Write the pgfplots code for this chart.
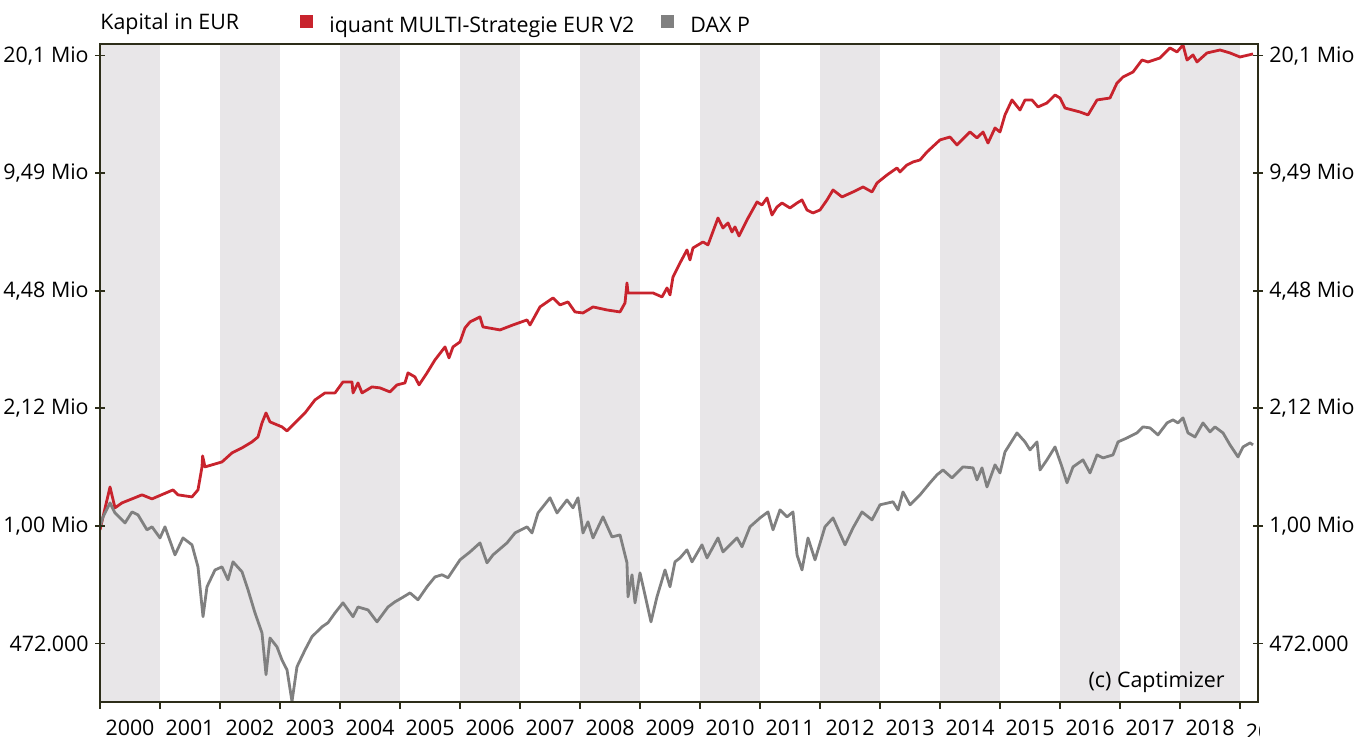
\documentclass[border=0pt]{standalone}
\usepackage{fontspec}
\setmainfont{Open Sans}
\usepackage{pgfplots}
\pgfplotsset{compat=1.18}
\definecolor{myred}{RGB}{200,35,45}
\definecolor{mygray}{RGB}{128,128,128}
\definecolor{band}{RGB}{232,230,232}
\definecolor{axcol}{RGB}{45,45,25}
\newcommand{\fs}{\fontsize{10.7}{12.8}\selectfont}

\begin{document}
\begin{tikzpicture}
\path[use as bounding box] (0,0) rectangle (683.5pt,368pt);
\begin{axis}[
  name=main,
  at={(50pt,17pt)}, anchor=south west,
  scale only axis, width=579pt, height=329pt,
  xmin=2000, xmax=2019.3,
  ymode=log, ymin=0.325, ymax=21.65,
  axis on top,
  axis line style={axcol, line width=0.8pt},
  xtick={2000,2001,2002,2003,2004,2005,2006,2007,2008,2009,2010,2011,2012,2013,2014,2015,2016,2017,2018,2019},
  xticklabels={2000,2001,2002,2003,2004,2005,2006,2007,2008,2009,2010,2011,2012,2013,2014,2015,2016,2017,2018,{\rlap{\tikz[baseline=0pt]{\clip (0pt,-3pt) rectangle (7pt,10pt); \node[anchor=base west,inner sep=0pt] at (-15pt,1pt) {2019};}}\phantom{2019}}},
  xtick pos=lower, xtick align=outside,
  xtick style={axcol, line width=0.8pt, /pgfplots/major tick length=3.5pt},
  xticklabel style={font=\fs, anchor=north, xshift=15pt, yshift=-1pt},
  ytick={0.472,1,2.12,4.48,9.49,20.1},
  yticklabels={472.000,{1,00 Mio},{2,12 Mio},{4,48 Mio},{9,49 Mio},{20,1 Mio}},
  ytick pos=left, ytick align=center,
  ytick style={axcol, line width=0.8pt, /pgfplots/major tick length=5pt},
  yticklabel style={font=\fs},
  /pgf/number format/assume math mode=true,
  legend style={draw=none, fill=none, at={(axis description cs:0.1727,1)}, anchor=south west, yshift=2pt, inner sep=0pt, font=\fs, /tikz/every even column/.append style={column sep=11.5pt}},
  legend columns=-1, legend cell align=left,
  legend image code/.code={\path[draw=none, fill=none] (0pt,0pt) -- (12.5pt,0pt); \fill[#1, draw=none] (0pt,-0.75pt) rectangle (6.5pt,5.75pt);},
]
\fill[band] (axis cs:2000,0.3) rectangle (axis cs:2001,25);
\fill[band] (axis cs:2002,0.3) rectangle (axis cs:2003,25);
\fill[band] (axis cs:2004,0.3) rectangle (axis cs:2005,25);
\fill[band] (axis cs:2006,0.3) rectangle (axis cs:2007,25);
\fill[band] (axis cs:2008,0.3) rectangle (axis cs:2009,25);
\fill[band] (axis cs:2010,0.3) rectangle (axis cs:2011,25);
\fill[band] (axis cs:2012,0.3) rectangle (axis cs:2013,25);
\fill[band] (axis cs:2014,0.3) rectangle (axis cs:2015,25);
\fill[band] (axis cs:2016,0.3) rectangle (axis cs:2017,25);
\fill[band] (axis cs:2018,0.3) rectangle (axis cs:2019,25);

\addplot[color=myred, line width=1.4pt, line join=round] coordinates {
(2000.000,0.975)(2000.167,1.282)(2000.250,1.122)(2000.367,1.158)(2000.700,1.219)(2000.867,1.188)(2001.217,1.258)(2001.300,1.219)(2001.533,1.203)(2001.633,1.258)(2001.700,1.457)(2001.710,1.563)(2001.750,1.457)(2002.033,1.504)(2002.200,1.593)(2002.367,1.645)(2002.533,1.709)(2002.633,1.764)(2002.700,1.929)(2002.767,2.056)(2002.833,1.942)(2003.033,1.881)(2003.117,1.833)(2003.250,1.929)(2003.417,2.056)(2003.583,2.234)(2003.750,2.336)(2003.917,2.336)(2004.050,2.506)(2004.200,2.506)(2004.217,2.336)(2004.300,2.490)(2004.367,2.336)(2004.533,2.427)(2004.667,2.412)(2004.833,2.351)(2004.950,2.459)(2005.083,2.490)(2005.133,2.654)(2005.250,2.587)(2005.317,2.459)(2005.450,2.654)(2005.583,2.884)(2005.750,3.133)(2005.817,2.921)(2005.883,3.133)(2006.000,3.235)(2006.083,3.537)(2006.167,3.675)(2006.333,3.794)(2006.383,3.560)(2006.667,3.492)(2006.883,3.605)(2007.117,3.722)(2007.167,3.605)(2007.333,4.044)(2007.550,4.283)(2007.667,4.096)(2007.800,4.175)(2007.917,3.917)(2008.050,3.892)(2008.217,4.044)(2008.450,3.967)(2008.667,3.917)(2008.750,4.148)(2008.783,4.713)(2008.800,4.421)(2009.050,4.421)(2009.217,4.421)(2009.367,4.310)(2009.450,4.565)(2009.500,4.366)(2009.550,4.897)(2009.667,5.354)(2009.783,5.818)(2009.833,5.458)(2009.883,5.892)(2010.050,6.122)(2010.133,6.006)(2010.300,7.135)(2010.383,6.694)(2010.467,6.911)(2010.533,6.525)(2010.583,6.737)(2010.650,6.361)(2010.783,7.045)(2010.950,7.902)(2011.033,7.751)(2011.117,8.106)(2011.200,7.273)(2011.283,7.653)(2011.367,7.851)(2011.500,7.604)(2011.617,7.851)(2011.700,8.003)(2011.783,7.508)(2011.883,7.366)(2012.000,7.508)(2012.117,8.003)(2012.217,8.531)(2012.367,8.158)(2012.550,8.423)(2012.717,8.695)(2012.867,8.423)(2012.950,8.920)(2013.117,9.388)(2013.283,9.816)(2013.333,9.569)(2013.450,10.007)(2013.550,10.20)(2013.667,10.33)(2013.783,10.87)(2014.000,11.74)(2014.167,11.96)(2014.283,11.37)(2014.500,12.35)(2014.617,11.89)(2014.717,12.35)(2014.800,11.51)(2014.917,12.67)(2015.000,12.35)(2015.083,13.77)(2015.200,15.15)(2015.333,14.21)(2015.417,15.15)(2015.533,15.15)(2015.633,14.49)(2015.783,14.86)(2015.917,15.64)(2016.000,15.34)(2016.083,14.39)(2016.333,14.03)(2016.467,13.77)(2016.617,15.15)(2016.833,15.34)(2016.950,16.88)(2017.050,17.54)(2017.217,18.11)(2017.367,19.55)(2017.467,19.31)(2017.667,19.81)(2017.833,21.11)(2017.950,20.58)(2018.050,21.52)(2018.117,19.55)(2018.217,20.19)(2018.283,19.31)(2018.450,20.45)(2018.667,20.84)(2018.833,20.45)(2019.000,19.93)(2019.217,20.32)
};
\addlegendentry{iquant MULTI-Strategie EUR V2}

\addplot[color=mygray, line width=1.4pt, line join=round] coordinates {
(2000.000,0.994)(2000.050,1.059)(2000.167,1.158)(2000.250,1.086)(2000.417,1.019)(2000.533,1.093)(2000.633,1.073)(2000.783,0.975)(2000.867,0.994)(2001.000,0.926)(2001.083,0.994)(2001.250,0.831)(2001.383,0.926)(2001.533,0.886)(2001.633,0.770)(2001.717,0.560)(2001.783,0.678)(2001.917,0.755)(2002.033,0.770)(2002.133,0.709)(2002.217,0.795)(2002.367,0.746)(2002.467,0.665)(2002.583,0.574)(2002.700,0.505)(2002.767,0.387)(2002.833,0.489)(2002.950,0.462)(2003.033,0.425)(2003.117,0.399)(2003.200,0.326)(2003.283,0.407)(2003.417,0.453)(2003.533,0.493)(2003.700,0.525)(2003.800,0.539)(2003.917,0.574)(2004.050,0.612)(2004.217,0.560)(2004.300,0.596)(2004.467,0.585)(2004.617,0.542)(2004.800,0.596)(2004.917,0.616)(2005.033,0.632)(2005.167,0.652)(2005.300,0.624)(2005.450,0.678)(2005.583,0.722)(2005.700,0.732)(2005.800,0.718)(2006.000,0.805)(2006.167,0.847)(2006.333,0.897)(2006.450,0.790)(2006.550,0.831)(2006.783,0.897)(2006.917,0.956)(2007.117,0.994)(2007.200,0.956)(2007.300,1.086)(2007.500,1.196)(2007.617,1.086)(2007.783,1.180)(2007.883,1.122)(2007.967,1.196)(2008.050,0.956)(2008.133,1.026)(2008.217,0.926)(2008.383,1.059)(2008.533,0.932)(2008.667,0.944)(2008.783,0.790)(2008.800,0.636)(2008.867,0.732)(2008.917,0.612)(2009.000,0.741)(2009.083,0.644)(2009.183,0.542)(2009.283,0.636)(2009.417,0.755)(2009.500,0.678)(2009.583,0.795)(2009.667,0.815)(2009.783,0.858)(2009.867,0.795)(2010.033,0.886)(2010.117,0.815)(2010.300,0.926)(2010.383,0.847)(2010.617,0.926)(2010.700,0.875)(2010.833,0.994)(2011.000,1.052)(2011.133,1.093)(2011.217,0.975)(2011.333,1.107)(2011.450,1.059)(2011.550,1.093)(2011.617,0.831)(2011.700,0.755)(2011.800,0.926)(2011.917,0.805)(2012.083,0.994)(2012.217,1.052)(2012.417,0.886)(2012.550,0.987)(2012.700,1.093)(2012.867,1.039)(2013.000,1.144)(2013.217,1.166)(2013.300,1.107)(2013.383,1.242)(2013.500,1.144)(2013.667,1.219)(2013.833,1.316)(2013.950,1.385)(2014.050,1.429)(2014.200,1.358)(2014.300,1.411)(2014.383,1.457)(2014.550,1.448)(2014.617,1.341)(2014.700,1.448)(2014.783,1.282)(2014.917,1.476)(2015.000,1.402)(2015.083,1.603)(2015.283,1.810)(2015.417,1.709)(2015.500,1.624)(2015.617,1.709)(2015.667,1.429)(2015.783,1.524)(2015.917,1.655)(2016.033,1.457)(2016.117,1.316)(2016.217,1.457)(2016.383,1.524)(2016.500,1.402)(2016.617,1.573)(2016.717,1.543)(2016.883,1.573)(2016.967,1.709)(2017.117,1.753)(2017.283,1.810)(2017.383,1.881)(2017.500,1.869)(2017.633,1.787)(2017.783,1.929)(2017.883,1.967)(2017.967,1.929)(2018.050,1.992)(2018.133,1.810)(2018.250,1.764)(2018.383,1.929)(2018.500,1.822)(2018.583,1.881)(2018.717,1.810)(2018.833,1.677)(2018.967,1.553)(2019.050,1.655)(2019.167,1.698)(2019.217,1.677)
};
\addlegendentry{DAX P}

\node[anchor=base east, font=\fs, inner sep=0pt] at (rel axis cs:0.9715,0.0228) {(c) Captimizer};
\end{axis}

\begin{axis}[
  at={(50pt,17pt)}, anchor=south west,
  scale only axis, width=579pt, height=329pt,
  xmin=2000, xmax=2019.3,
  ymode=log, ymin=0.325, ymax=21.65,
  hide x axis,
  axis y line*=right,
  axis line style={axcol, line width=0.8pt},
  ytick={0.472,1,2.12,4.48,9.49,20.1},
  yticklabels={472.000,{1,00 Mio},{2,12 Mio},{4,48 Mio},{9,49 Mio},{20,1 Mio}},
  ytick align=center,
  ytick style={axcol, line width=0.8pt, /pgfplots/major tick length=5pt},
  yticklabel style={font=\fs},
]
\end{axis}

\node[anchor=base west, font=\fs, inner sep=0pt] at ([yshift=7.5pt]main.north west) {Kapital in EUR};
\end{tikzpicture}
\end{document}
